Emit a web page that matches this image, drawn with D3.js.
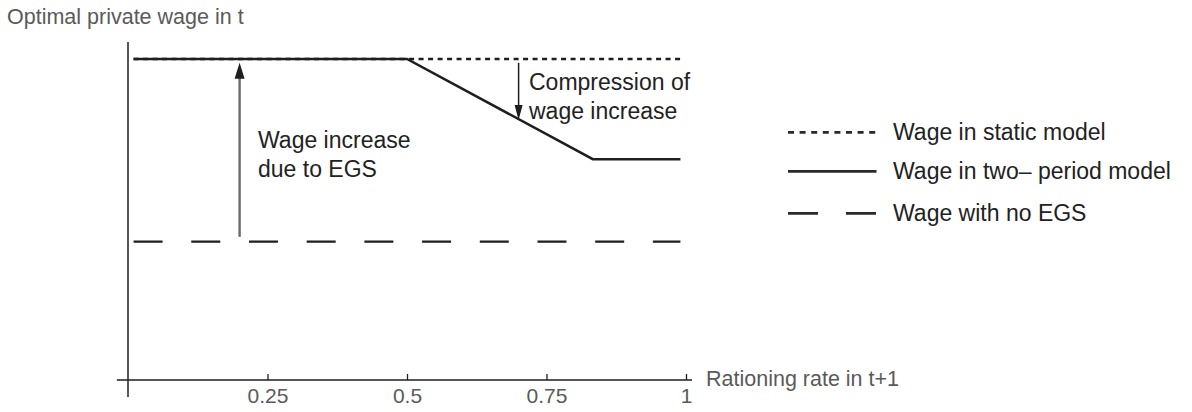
<!DOCTYPE html>
<html>
<head>
<meta charset="utf-8">
<script src="https://cdn.jsdelivr.net/npm/d3@7"></script>
<style>
  html, body { margin: 0; padding: 0; background: #fff; }
  svg { display: block; font-family: "Liberation Sans", Arial, sans-serif; }
</style>
</head>
<body>
<svg id="chart" width="1192" height="412"></svg>
<script>
// ---- data ----
const xTicks = [0.25, 0.5, 0.75, 1];
const xTickLabels = ["0.25", "0.5", "0.75", "1"];
const staticX = [0.01, 0.99];
const staticY = [1, 1];
const twoPeriodX = [0.01, 0.5, 0.833, 0.99];
const twoPeriodY = [1, 1, 0.688, 0.688];
const noEgsX = [0.01, 0.99];
const noEgsY = [0.431, 0.431];
const egsArrowX = 0.2, egsArrowFrom = 0.446, egsArrowTo = 0.988;
const compArrowX = 0.7, compArrowFrom = 0.988, compArrowTo = 0.81;
const legendLabels = ["Wage in static model", "Wage in two\u2013 period model", "Wage with no EGS"];
const yTitle = "Optimal private wage in t";
const xTitle = "Rationing rate in t+1";
const noteEgs = ["Wage increase", "due to EGS"];
const noteComp = ["Compression of", "wage increase"];

// ---- scales ----
const svg = d3.select("#chart");
const x = d3.scaleLinear().domain([0, 1]).range([128, 686]);
const y = d3.scaleLinear().domain([0, 1]).range([380, 59]);

const ink = "#1e1e1e";
const gray = "#5a5a5a";

// axes
const xAxisG = svg.append("g").attr("transform", `translate(0,${y(0)})`)
  .call(d3.axisBottom(x).tickValues(xTicks).tickFormat((d, i) => xTickLabels[i])
        .tickSizeInner(-6).tickSizeOuter(0).tickPadding(8));
xAxisG.select(".domain").remove();
xAxisG.selectAll(".tick line").attr("stroke", ink).attr("stroke-width", 1.3);
xAxisG.selectAll(".tick text").attr("font-size", 21).attr("fill", gray)
  .attr("font-family", '"Liberation Sans", Arial, sans-serif').attr("y", 8).attr("dy", "0.72em");

svg.append("line").attr("x1", x(-0.02)).attr("x2", x(1.0108))
  .attr("y1", y(0)).attr("y2", y(0)).attr("stroke", ink).attr("stroke-width", 1.5);
svg.append("line").attr("x1", x(0)).attr("x2", x(0))
  .attr("y1", y(1.053)).attr("y2", y(-0.053)).attr("stroke", ink).attr("stroke-width", 1.5);

// titles
svg.append("text").attr("x", 7).attr("y", 24).attr("font-size", 21.5).attr("fill", gray).text(yTitle);
svg.append("text").attr("x", 706).attr("y", 386).attr("font-size", 21.5).attr("fill", gray).text(xTitle);

// lines
const line = d3.line().x(d => x(d[0])).y(d => y(d[1]));
const zip = (a, b) => a.map((v, i) => [v, b[i]]);

svg.append("path").datum(zip(noEgsX, noEgsY)).attr("d", line)
  .attr("fill", "none").attr("stroke", ink).attr("stroke-width", 2.4).attr("stroke-dasharray", "29,28.7");
svg.append("path").datum(zip(twoPeriodX, twoPeriodY)).attr("d", line)
  .attr("fill", "none").attr("stroke", ink).attr("stroke-width", 2.5);
svg.append("path").datum(zip(staticX, staticY)).attr("d", line)
  .attr("fill", "none").attr("stroke", ink).attr("stroke-width", 2.6).attr("stroke-dasharray", "5,4.5");

// arrows
function arrow(xv, y0, y1, color, w, headW, headL) {
  const X = x(xv), Y0 = y(y0), Y1 = y(y1);
  const dir = Y1 < Y0 ? 1 : -1; // 1 = pointing up
  svg.append("line").attr("x1", X).attr("x2", X).attr("y1", Y0).attr("y2", Y1 + dir * headL * 0.8)
    .attr("stroke", color).attr("stroke-width", w);
  svg.append("path").attr("d", `M${X},${Y1} L${X - headW / 2},${Y1 + dir * headL} L${X + headW / 2},${Y1 + dir * headL} Z`)
    .attr("fill", ink);
}
arrow(egsArrowX, egsArrowFrom, egsArrowTo, "#6a6a6a", 2.4, 10, 16);
arrow(compArrowX, compArrowFrom, compArrowTo, ink, 1.5, 8, 15);

// annotations
const ann = svg.append("g").attr("font-size", 23).attr("fill", "#222");
noteEgs.forEach((t, i) => ann.append("text").attr("x", 258).attr("y", 148 + i * 28.5).text(t));
noteComp.forEach((t, i) => ann.append("text").attr("x", 529).attr("y", 90 + i * 28.5).text(t));

// legend
const legendDash = ["6,5.6", null, "30,28"];
const legendY = [132.3, 171.3, 213.3];
legendLabels.forEach((lab, i) => {
  const g = svg.append("g");
  const l = g.append("line").attr("x1", 788).attr("x2", 876.5).attr("y1", legendY[i]).attr("y2", legendY[i])
    .attr("stroke", "#2a2a2a").attr("stroke-width", 2.8);
  if (legendDash[i]) l.attr("stroke-dasharray", legendDash[i]);
  g.append("text").attr("x", 893).attr("y", legendY[i] + 7.5).attr("font-size", 23).attr("fill", "#222").text(lab);
});
</script>
</body>
</html>
